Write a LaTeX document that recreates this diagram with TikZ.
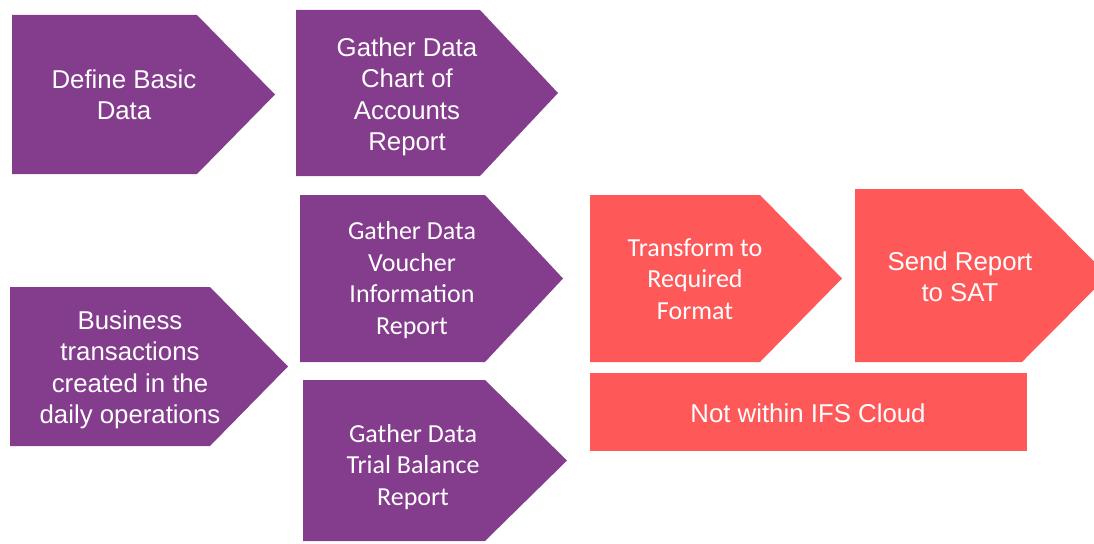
\documentclass[tikz,border=0pt]{standalone}
\usepackage{fontspec}
\setmainfont{Liberation Sans}
\newfontfamily\calibrifont{Carlito}
\usetikzlibrary{positioning}
\definecolor{ifspurple}{HTML}{843C8C}
\definecolor{ifsred}{HTML}{FE5859}

\begin{document}
\begin{tikzpicture}[
x=1pt,y=-1pt,
inifs/.style={fill=ifspurple},
outifs/.style={fill=ifsred},
lbl/.style={text=white,align=center,inner sep=0pt,
font=\fontsize{25.8}{31.5}\selectfont},
lblc/.style={lbl,font=\calibrifont\fontsize{26}{31.5}\selectfont}
]
\useasboundingbox (0,0) rectangle (1094,543);
\clip (0,0) rectangle (1094,543);

% left x / top y / body end / tip x / bottom y / colour
\foreach \l/\t/\r/\p/\b/\c in {12/15/197/275/174/inifs,
296/10/480/558/176/inifs,300/195/485/563/362/inifs,
10/287/210/288/446/inifs,303/380/485/567/541/inifs,
590/195/760/842/362/outifs,855/189/1022/1108/362/outifs}
\fill[\c] (\l,\t) -- (\r,\t) -- (\p,{(\t+\b)/2}) -- (\r,\b) -- (\l,\b) -- cycle;
\fill[outifs] (590,373) rectangle (1027,451);

\node[lbl]  (basic)    at (124,95)  {Define Basic\\Data};
\node[lbl]  (chart)    at (407,97)  {Gather Data\\Chart of\\Accounts\\Report};
\node[lblc] (voucher)  at (412,280) {Gather Data\\Voucher\\Information\\Report};
\node[lbl]  (business) at (130,370) {Business\\transactions\\created in the\\daily operations};
\node[lblc] (trial)    at (413,467) {Gather Data\\Trial Balance\\Report};
\node[lblc] (transform) at (695,279) {Transform to\\Required\\Format};
\node[lbl]  (send)     at (960,277) {Send Report\\to SAT};
\node[lbl]  (outside)  at (808,413) {Not within IFS Cloud};
\end{tikzpicture}
\end{document}
